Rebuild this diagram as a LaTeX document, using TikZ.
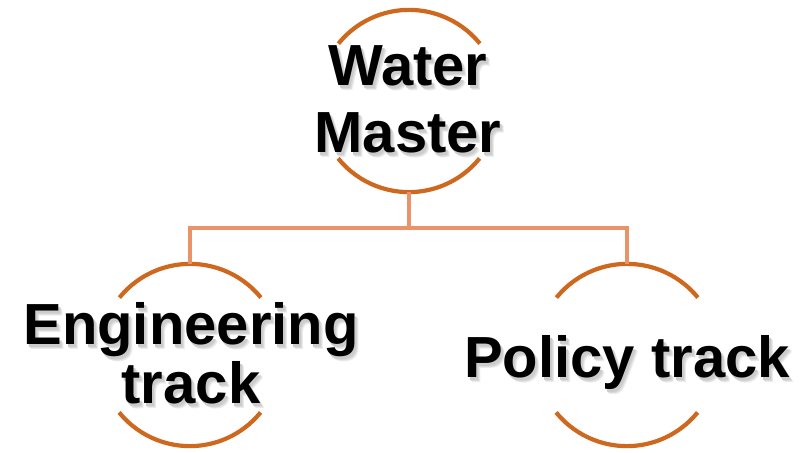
\documentclass[tikz,border=0pt]{standalone}
\usepackage{fontspec}
\setmainfont{Liberation Sans}
\definecolor{arcc}{RGB}{206,104,30}
\definecolor{linkc}{RGB}{234,146,104}
\newcommand{\shlayer}[4]{\makebox[0pt][l]{\hspace{#1}\raisebox{#2}{\textcolor{black!#3}{#4}}}}
\newcommand{\txsh}[1]{\shlayer{4pt}{-5pt}{8}{#1}\shlayer{3pt}{-4pt}{14}{#1}\shlayer{2pt}{-3pt}{20}{#1}#1}
\begin{document}
\begin{tikzpicture}[x=1pt,y=-1pt,
  ring/.style={circle,minimum size=182pt,inner sep=0pt},
  arcline/.style={draw=arcc,line width=4.2pt},
  link/.style={draw=linkc,line width=4pt,line join=miter},
  lbl/.style={anchor=base,inner sep=0pt,font=\fontsize{58}{60}\selectfont\bfseries,text=black}]
\useasboundingbox (0,0) rectangle (810,452);
\node[ring] (wm) at (409,101) {};
\node[ring] (eng) at (190,355) {};
\node[ring] (pol) at (627,355) {};
% arcs
\foreach \n in {wm,eng,pol}{
  \draw[arcline] (\n.39) arc[start angle=39,end angle=141,radius=91pt];
  \draw[arcline] (\n.219) arc[start angle=219,end angle=321,radius=91pt];
}
% connectors
\coordinate (j) at (409,228);
\draw[link] (wm.south) -- (j);
\draw[link] (eng.north) -- (eng.north |- j) -- (pol.north |- j) -- (pol.north);
% text
\node[lbl] (t1) at (408,85) {\txsh{Water}};
\node[lbl] (t2) at (408,152) {\txsh{Master}};
\node[lbl] (t3) at (191,344) {\txsh{Engineering}};
\node[lbl] (t4) at (191,403) {\txsh{track}};
\node[lbl] (t5) at (627,377) {\txsh{Policy track}};
\end{tikzpicture}
\end{document}
